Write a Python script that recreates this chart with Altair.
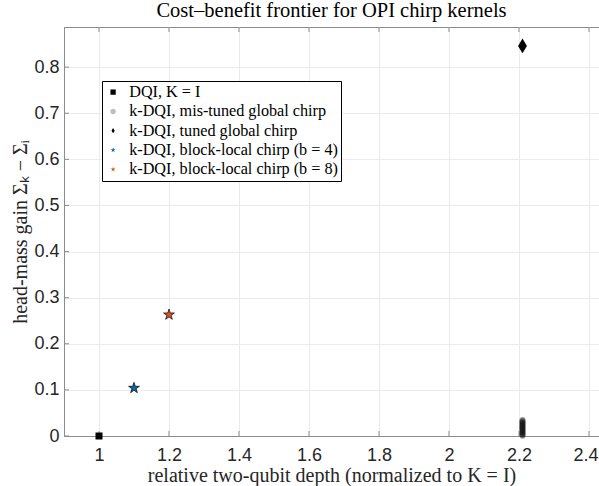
import altair as alt
import pandas as pd

# ---- data ----
series_names = [
    "DQI, K = I",
    "k-DQI, mis-tuned global chirp",
    "k-DQI, tuned global chirp",
    "k-DQI, block-local chirp (b = 4)",
    "k-DQI, block-local chirp (b = 8)",
]
series_colors = ["#000000", "#bdbdbd", "#000000", "#0f66a6", "#d9531e"]

dqi_x = [1.0]
dqi_y = [0.0]

mis_x = [2.21] * 36
mis_y = [0.000, 0.001, 0.002, 0.003, 0.004, 0.005, 0.006, 0.007, 0.008, 0.009,
         0.010, 0.011, 0.012, 0.013, 0.014, 0.015, 0.016, 0.017, 0.018, 0.019,
         0.020, 0.021, 0.022, 0.023, 0.024, 0.025, 0.026, 0.027, 0.028, 0.029,
         0.030, 0.031, 0.032, 0.033, 0.034, 0.035]

tuned_x = [2.21]
tuned_y = [0.846]

b4_x = [1.1]
b4_y = [0.104]

b8_x = [1.2]
b8_y = [0.263]

x_ticks = [1.0, 1.2, 1.4, 1.6, 1.8, 2.0, 2.2, 2.4]
y_ticks = [0.0, 0.1, 0.2, 0.3, 0.4, 0.5, 0.6, 0.7, 0.8]

STAR = ("M0,-1L0.2245,-0.309L0.951,-0.309L0.363,0.118L0.588,0.809L0,0.382"
        "L-0.588,0.809L-0.363,0.118L-0.951,-0.309L-0.2245,-0.309Z")
DIAMOND = "M0,-1L0.6,0L0,1L-0.6,0Z"
series_shapes = ["square", "circle", DIAMOND, STAR, STAR]

rows = []
for xs, ys, name in [(dqi_x, dqi_y, series_names[0]),
                     (mis_x, mis_y, series_names[1]),
                     (tuned_x, tuned_y, series_names[2]),
                     (b4_x, b4_y, series_names[3]),
                     (b8_x, b8_y, series_names[4])]:
    for xv, yv in zip(xs, ys):
        rows.append({"x": xv, "y": yv, "series": name})
df = pd.DataFrame(rows)

W, H = 535, 409
SERIF = "Liberation Serif"
SANS = "Liberation Sans"
AXIS_GRAY = "#8c8c8c"

xscale = alt.Scale(domain=[0.9, 2.4286], nice=False, zero=False)
yscale = alt.Scale(domain=[0, 0.887], nice=False)

xenc = alt.X("x:Q", scale=xscale,
             axis=alt.Axis(values=x_ticks, format="~g",
                           labelFlush=15, labelFlushOffset=9,
                           title="relative two-qubit depth (normalized to K = I)"))
yenc = alt.Y("y:Q", scale=yscale,
             axis=alt.Axis(values=y_ticks, format="~g",
                           title="head-mass gain Σ\u2096 − Σ\u1d62"))
color = alt.Color("series:N", scale=alt.Scale(domain=series_names, range=series_colors),
                  legend=alt.Legend(title=None, orient="none", legendX=38, legendY=54))
shape = alt.Shape("series:N", scale=alt.Scale(domain=series_names, range=series_shapes))

base = alt.Chart(df).encode(x=xenc, y=yenc, color=color, shape=shape)


def layer(name, size, opacity=1.0, stroke=None, sw=0.0):
    kw = dict(filled=True, size=size, opacity=opacity, strokeWidth=sw)
    if stroke:
        kw["stroke"] = stroke
    return base.transform_filter(alt.datum.series == name).mark_point(**kw)


mis_layer = base.transform_filter(alt.datum.series == series_names[1]).mark_point(
    filled=True, size=36, opacity=0.22).encode(color=alt.value("#111111"))

# inward tick marks (MATLAB style)
xt = pd.DataFrame({"t": x_ticks})
yt = pd.DataFrame({"t": y_ticks})
tick_bottom = alt.Chart(xt).mark_rule(color=AXIS_GRAY, strokeWidth=1).encode(
    x=alt.X("t:Q", scale=xscale), y=alt.value(H), y2=alt.value(H - 5))
tick_top = alt.Chart(xt).mark_rule(color=AXIS_GRAY, strokeWidth=1).encode(
    x=alt.X("t:Q", scale=xscale), y=alt.value(0), y2=alt.value(5))
tick_left = alt.Chart(yt).mark_rule(color=AXIS_GRAY, strokeWidth=1).encode(
    y=alt.Y("t:Q", scale=yscale), x=alt.value(0), x2=alt.value(5))

chart = alt.layer(
    tick_bottom, tick_top, tick_left,
    mis_layer,
    layer(series_names[0], 49),
    layer(series_names[2], 220),
    layer(series_names[3], 130, 1.0, "#000000", 0.7),
    layer(series_names[4], 130, 1.0, "#000000", 0.7),
).properties(
    width=W, height=H,
    padding={"left": 64, "top": 27, "right": 0, "bottom": 50},
    autosize=alt.AutoSizeParams(type="none"),
    title=alt.Title("Cost–benefit frontier for OPI chirp kernels", font=SERIF,
                    fontSize=20.5, fontWeight="normal", color="#000000", offset=5,
                    anchor="middle"),
).configure_view(
    stroke=AXIS_GRAY, strokeWidth=1
).configure_axis(
    grid=True, gridColor="#ebebeb", gridWidth=1,
    domainColor=AXIS_GRAY, tickSize=0,
    labelFont=SANS, labelFontSize=18, labelColor="#262626",
    titleFont=SERIF, titleFontSize=20, titleFontWeight="normal", titleColor="#262626",
).configure_axisX(
    labelPadding=10, titlePadding=1,
).configure_axisY(
    labelPadding=5, titlePadding=3,
).configure_legend(
    labelFont=SERIF, labelFontSize=16.2, labelColor="#000000",
    symbolSize=28, symbolStrokeWidth=0.4, symbolStrokeColor="#000000",
    strokeColor="#000000", fillColor="#ffffff", padding=3, rowPadding=2.3,
    cornerRadius=0, labelLimit=400, symbolOpacity=1, labelOffset=8,
)

chart.save("out.html", embed_options={"renderer": "svg", "actions": False})
